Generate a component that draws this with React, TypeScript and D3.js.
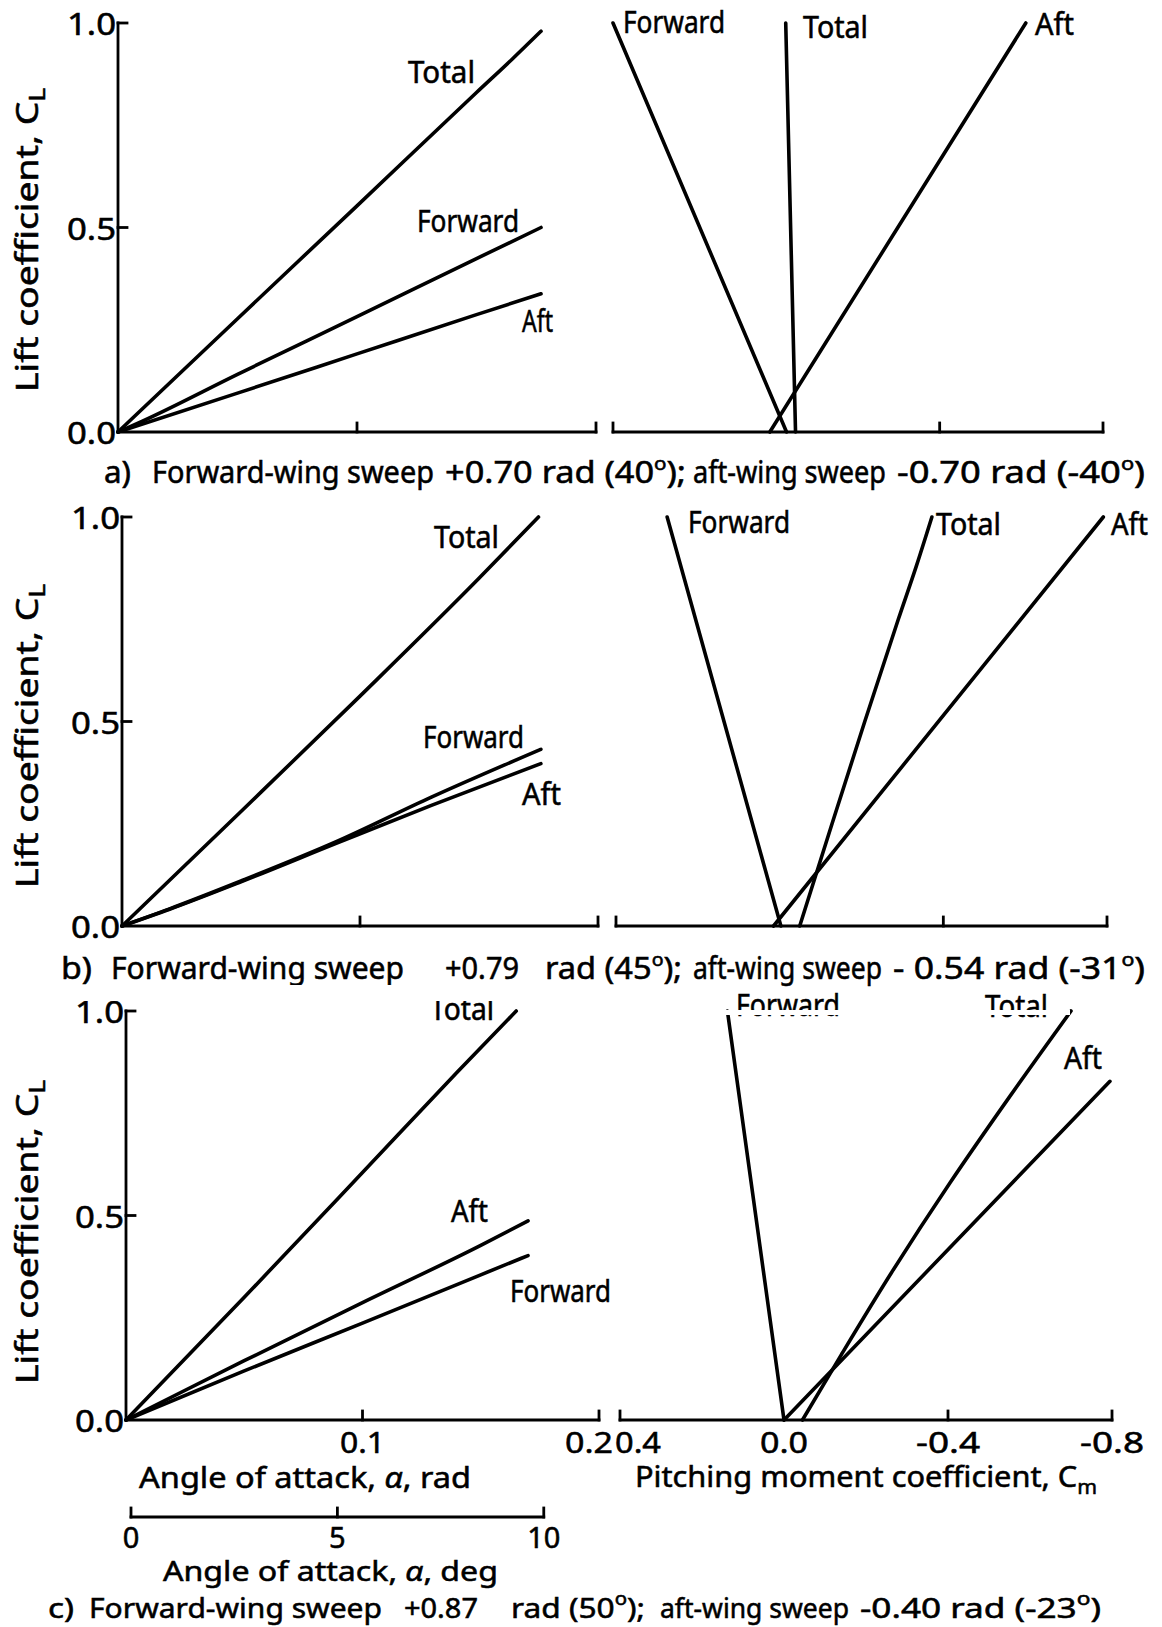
import React from "react";
import * as d3 from "d3";

type Pt = [number, number];

// ---- Lift coefficient against angle of attack (rad): [alpha, CL] ----
const liftTotalA: Pt[] = [[0, 0], [0.05, 0.277], [0.1, 0.553], [0.15, 0.83], [0.165, 0.912], [0.177, 0.98]];
const liftForwardA: Pt[] = [[0, 0], [0.01, 0.026], [0.05, 0.141], [0.1, 0.282], [0.15, 0.424], [0.177, 0.5]];
const liftAftA: Pt[] = [[0, 0], [0.05, 0.095], [0.1, 0.191], [0.15, 0.287], [0.177, 0.338]];

const liftTotalB: Pt[] = [[0, 0], [0.05, 0.28], [0.1, 0.562], [0.15, 0.85], [0.175, 1.0]];
const liftForwardB: Pt[] = [[0, 0], [0.02, 0.042], [0.05, 0.11], [0.09, 0.206], [0.13, 0.315], [0.176, 0.432]];
const liftAftB: Pt[] = [[0, 0], [0.02, 0.041], [0.05, 0.108], [0.09, 0.202], [0.13, 0.295], [0.176, 0.397]];

const liftTotalC: Pt[] = [[0, 0], [0.05, 0.3], [0.1, 0.605], [0.14, 0.85], [0.165, 1.0]];
const liftAftC: Pt[] = [[0, 0], [0.05, 0.145], [0.1, 0.287], [0.15, 0.427], [0.17, 0.487]];
const liftForwardC: Pt[] = [[0, 0], [0.05, 0.12], [0.1, 0.237], [0.15, 0.355], [0.17, 0.402]];

// ---- Pitching moment coefficient against lift: [Cm, CL] ----
const momentForwardA: Pt[] = [[-0.025, 0], [0.4, 1.0]];
const momentTotalA: Pt[] = [[-0.047, 0], [-0.023, 1.0]];
const momentAftA: Pt[] = [[0.016, 0], [-0.611, 1.0]];

const momentForwardB: Pt[] = [[-0.003, 0], [0.275, 1.0]];
const momentTotalB: Pt[] = [[-0.049, 0], [-0.128, 0.25], [-0.208, 0.5], [-0.29, 0.75], [-0.334, 0.88], [-0.372, 1.0]];
const momentAftB: Pt[] = [[0.015, 0], [-0.791, 1.0]];

const momentForwardC: Pt[] = [[0.0, 0], [0.138, 1.0]];
const momentTotalC: Pt[] = [[-0.045, 0], [-0.14, 0.16], [-0.262, 0.36], [-0.405, 0.58], [-0.55, 0.79], [-0.7, 1.0]];
const momentAftC: Pt[] = [[0.0, 0], [-0.795, 0.828]];

// ---- Ticks ----
const liftTicks = [0, 0.5, 1.0];
const liftTickLabels = ["0.0", "0.5", "1.0"];
const alphaTicks = [0.1, 0.2];
const alphaTickLabels = ["0.1", "0.2"];
const momentTicks = [0.4, -0.4, -0.8];
const momentTickValues = [0.4, 0.0, -0.4, -0.8];
const momentTickLabels = ["0.4", "0.0", "-0.4", "-0.8"];
const degTicks = [0, 5, 10];

// ---- Captions: [text, start x, end x] ----
const captionA: [string, number, number][] = [
  ["a)", 104, 131],
  ["Forward-wing sweep", 152, 434],
  ["+0.70 rad (40°);", 445, 686],
  ["aft-wing sweep", 693, 886],
  ["-0.70 rad (-40°)", 897, 1145],
];
const captionB: [string, number, number][] = [
  ["b)", 61, 92],
  ["Forward-wing sweep", 111, 404],
  ["+0.79", 445, 519],
  ["rad (45°);", 545, 682],
  ["aft-wing sweep", 693, 882],
  ["- 0.54 rad (-31°)", 893, 1145],
];
const captionC: [string, number, number][] = [
  ["c)", 48, 74],
  ["Forward-wing sweep", 89, 382],
  ["+0.87", 404, 478],
  ["rad (50°);", 511, 645],
  ["aft-wing sweep", 660, 849],
  ["-0.40 rad (-23°)", 860, 1101],
];

const FONT = "'Noto Sans', 'DejaVu Sans', sans-serif";
const W = 1162;
const H = 1627;
const FS = 30;

type SeriesLabel = { name: string; x0: number; x1: number; y: number };

type RowSpec = {
  liftX: [number, number];
  momentX: [number, number];
  clY: [number, number]; // pixel rows of CL = 0 and CL = 1
  lift: Pt[][];
  moment: Pt[][];
  liftLabels: SeriesLabel[];
  momentLabels: SeriesLabel[];
  caption: [string, number, number][];
  captionY: number;
  captionSize: number;
  titleY: number;
  bottomLabels: boolean;
};

const rows: RowSpec[] = [
  {
    liftX: [118, 596],
    momentX: [613, 1103],
    clY: [432, 23],
    lift: [liftTotalA, liftForwardA, liftAftA],
    moment: [momentForwardA, momentTotalA, momentAftA],
    liftLabels: [
      { name: "Total", x0: 408, x1: 475, y: 83 },
      { name: "Forward", x0: 417, x1: 519, y: 232 },
      { name: "Aft", x0: 522, x1: 553, y: 332 },
    ],
    momentLabels: [
      { name: "Forward", x0: 623, x1: 725, y: 33 },
      { name: "Total", x0: 803, x1: 868, y: 38 },
      { name: "Aft", x0: 1035, x1: 1074, y: 35 },
    ],
    caption: captionA,
    captionY: 483,
    captionSize: FS,
    titleY: 240,
    bottomLabels: false,
  },
  {
    liftX: [122, 598],
    momentX: [616, 1107],
    clY: [926, 517],
    lift: [liftTotalB, liftForwardB, liftAftB],
    moment: [momentForwardB, momentTotalB, momentAftB],
    liftLabels: [
      { name: "Total", x0: 434, x1: 499, y: 548 },
      { name: "Forward", x0: 423, x1: 524, y: 748 },
      { name: "Aft", x0: 522, x1: 561, y: 805 },
    ],
    momentLabels: [
      { name: "Forward", x0: 688, x1: 790, y: 533 },
      { name: "Total", x0: 936, x1: 1001, y: 535 },
      { name: "Aft", x0: 1111, x1: 1148, y: 535 },
    ],
    caption: captionB,
    captionY: 979,
    captionSize: FS,
    titleY: 736,
    bottomLabels: false,
  },
  {
    liftX: [126, 599],
    momentX: [620, 1112],
    clY: [1420, 1011],
    lift: [liftTotalC, liftAftC, liftForwardC],
    moment: [momentForwardC, momentTotalC, momentAftC],
    liftLabels: [
      { name: "Total", x0: 430, x1: 494, y: 1020 },
      { name: "Aft", x0: 451, x1: 488, y: 1222 },
      { name: "Forward", x0: 510, x1: 611, y: 1302 },
    ],
    momentLabels: [
      { name: "Forward", x0: 736, x1: 840, y: 1016 },
      { name: "Total", x0: 985, x1: 1048, y: 1017 },
      { name: "Aft", x0: 1064, x1: 1102, y: 1069 },
    ],
    caption: captionC,
    captionY: 1618,
    captionSize: 28,
    titleY: 1232,
    bottomLabels: true,
  },
];

// Renders a string, raising each "°" as a small superscript "o".
function withDegrees(s: string) {
  const parts = s.split("°");
  const out: React.ReactNode[] = [];
  parts.forEach((p, i) => {
    if (i > 0) {
      out.push(
        <tspan key={"d" + i} dy={-13} fontSize={18}>
          o
        </tspan>
      );
      out.push(
        <tspan key={"p" + i} dy={13}>
          {p}
        </tspan>
      );
    } else {
      out.push(<tspan key={"p" + i}>{p}</tspan>);
    }
  });
  return out;
}

function Fitted({
  x0,
  x1,
  y,
  children,
  size = FS,
}: {
  x0: number;
  x1: number;
  y: number;
  children: React.ReactNode;
  size?: number;
}) {
  return (
    <text x={x0} y={y} fontSize={size} textLength={x1 - x0} lengthAdjust="spacingAndGlyphs">
      {children}
    </text>
  );
}

function Row({ spec }: { spec: RowSpec }) {
  const xa = d3.scaleLinear().domain([0, 0.2]).range(spec.liftX);
  const xm = d3.scaleLinear().domain([0.4, -0.8]).range(spec.momentX);
  const y = d3.scaleLinear().domain([0, 1]).range(spec.clY);

  const liftLine = d3
    .line<Pt>()
    .x((d) => xa(d[0]))
    .y((d) => y(d[1]))
    .curve(d3.curveMonotoneX);
  const momentLine = d3
    .line<Pt>()
    .x((d) => xm(d[0]))
    .y((d) => y(d[1]))
    .curve(d3.curveMonotoneY);

  const tick = 9;
  const y0 = y(0);

  return (
    <g>
      {/* lift panel axes */}
      <g stroke="#000" strokeWidth={2.8} fill="none" strokeLinecap="square">
        <line x1={xa(0)} x2={xa(0)} y1={y(0)} y2={y(1)} />
        <line x1={xa(0)} x2={xa(0.2)} y1={y0} y2={y0} />
        {liftTicks
          .filter((t) => t > 0)
          .map((t) => (
            <line key={t} x1={xa(0)} x2={xa(0) + tick} y1={y(t)} y2={y(t)} />
          ))}
        {alphaTicks.map((t) => (
          <line key={t} x1={xa(t)} x2={xa(t)} y1={y0} y2={y0 - tick} />
        ))}
      </g>
      {/* moment panel axis */}
      <g stroke="#000" strokeWidth={2.8} fill="none" strokeLinecap="square">
        <line x1={xm(0.4)} x2={xm(-0.8)} y1={y0} y2={y0} />
        {momentTicks.map((t) => (
          <line key={t} x1={xm(t)} x2={xm(t)} y1={y0} y2={y0 - tick} />
        ))}
      </g>

      {/* curves */}
      <g stroke="#000" strokeWidth={3.6} fill="none" strokeLinejoin="round" strokeLinecap="round">
        {spec.lift.map((s, i) => (
          <path key={"l" + i} d={liftLine(s) || ""} />
        ))}
        {spec.moment.map((s, i) => (
          <path key={"m" + i} d={momentLine(s) || ""} />
        ))}
      </g>

      <g stroke="#000" strokeWidth={0.55}>
        {/* CL tick labels */}
        {liftTicks.map((t, i) => (
          <text
            key={t}
            x={xa(0) - 2}
            y={y(t) + 12}
            fontSize={31}
            textAnchor="end"
            textLength={49}
            lengthAdjust="spacingAndGlyphs"
          >
            {liftTickLabels[i]}
          </text>
        ))}

        {/* y axis title */}
        <text
          transform={`translate(38, ${spec.titleY}) rotate(-90)`}
          fontSize={FS}
          textAnchor="middle"
          textLength={304}
          lengthAdjust="spacingAndGlyphs"
        >
          Lift coefficient,  C
          <tspan dy={7} fontSize={21}>
            L
          </tspan>
        </text>

        {/* series labels */}
        {spec.liftLabels.concat(spec.momentLabels).map((l, i) => (
          <Fitted key={i} x0={l.x0} x1={l.x1} y={l.y}>
            {l.name}
          </Fitted>
        ))}

        {/* caption */}
        {spec.caption.map(([t, a, b], i) => (
          <Fitted key={"c" + i} x0={a} x1={b} y={spec.captionY} size={spec.captionSize}>
            {withDegrees(t)}
          </Fitted>
        ))}

        {spec.bottomLabels && <BottomAxes xa={xa} xm={xm} y0={y0} />}
      </g>
    </g>
  );
}

function BottomAxes({
  xa,
  xm,
  y0,
}: {
  xa: d3.ScaleLinear<number, number>;
  xm: d3.ScaleLinear<number, number>;
  y0: number;
}) {
  const labelY = y0 + 33;
  const tickFs = 29;
  // degree scale laid under the radian scale
  const xd = d3
    .scaleLinear()
    .domain([0, 10])
    .range([xa(0) + 5, xa((10 * Math.PI) / 180) + 5]);
  const degY = 1517;
  return (
    <g>
      {alphaTicks.map((t, i) =>
        i === 0 ? (
          <text key={t} x={xa(t)} y={labelY} fontSize={tickFs} textAnchor="middle" textLength={45} lengthAdjust="spacingAndGlyphs">
            {alphaTickLabels[i]}
          </text>
        ) : (
          <text key={t} x={xa(t) + 14} y={labelY} fontSize={tickFs} textAnchor="end" textLength={48} lengthAdjust="spacingAndGlyphs">
            {alphaTickLabels[i]}
          </text>
        )
      )}
      {momentTickValues.map((t, i) =>
        i === 0 ? (
          <text key={t} x={xm(t) - 5} y={labelY} fontSize={tickFs} textLength={46} lengthAdjust="spacingAndGlyphs">
            {momentTickLabels[i]}
          </text>
        ) : (
          <text
            key={t}
            x={xm(t)}
            y={labelY}
            fontSize={tickFs}
            textAnchor="middle"
            textLength={t === 0 ? 48 : 64}
            lengthAdjust="spacingAndGlyphs"
          >
            {momentTickLabels[i]}
          </text>
        )
      )}

      <Fitted x0={139} x1={471} y={1488} size={29}>
        Angle of attack,  <tspan fontStyle="italic">α</tspan>,  rad
      </Fitted>
      <Fitted x0={635} x1={1097} y={1487} size={29}>
        Pitching moment coefficient,  C
        <tspan dy={7} fontSize={20}>
          m
        </tspan>
      </Fitted>

      {/* degree axis */}
      <g stroke="#000" strokeWidth={2.8} fill="none" strokeLinecap="square">
        <line x1={xd(0)} x2={xd(10)} y1={degY} y2={degY} />
        {degTicks.map((t) => (
          <line key={t} x1={xd(t)} x2={xd(t)} y1={degY} y2={degY - 9} />
        ))}
      </g>
      {degTicks.map((t) => (
        <text key={t} x={xd(t)} y={1548} fontSize={tickFs} textAnchor="middle">
          {t}
        </text>
      ))}
      <Fitted x0={163} x1={498} y={1581} size={28}>
        Angle of attack,  <tspan fontStyle="italic">α</tspan>,  deg
      </Fitted>
    </g>
  );
}

export default function App() {
  return (
    <div style={{ position: "absolute", left: 0, top: 0 }}>
      <svg width={W} height={H} viewBox={`0 0 ${W} ${H}`} style={{ display: "block", background: "#fff" }}>
        <rect width={W} height={H} fill="#fff" />
        <g fontFamily={FONT} fill="#000">
          {rows.map((r, i) => (
            <Row key={i} spec={r} />
          ))}
        </g>
        {/* torn strip along the top of the lowest row */}
        <rect x={40} y={985} width={540} height={16} fill="#fff" />
        <rect x={690} y={1010} width={380} height={5} fill="#fff" />
      </svg>
    </div>
  );
}
